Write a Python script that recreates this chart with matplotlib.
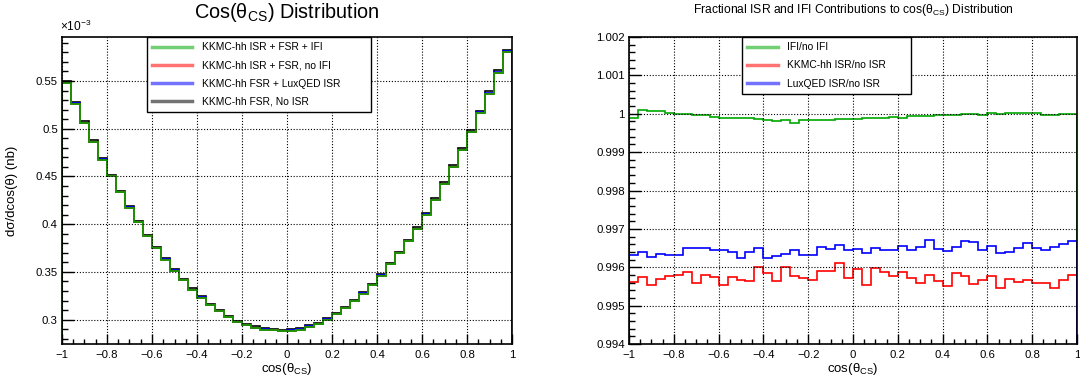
import numpy as np
import matplotlib
matplotlib.use("Agg")
import matplotlib.pyplot as plt
from matplotlib.ticker import MultipleLocator, FuncFormatter
from matplotlib.lines import Line2D

plt.rcParams["font.family"] = ["Liberation Sans", "DejaVu Sans"]
plt.rcParams["mathtext.fontset"] = "custom"
plt.rcParams["mathtext.rm"] = "Liberation Sans"
plt.rcParams["mathtext.it"] = "Liberation Sans:italic"
plt.rcParams["mathtext.bf"] = "Liberation Sans:bold"

# 50 bins in cos(theta_CS) from -1 to 1
bin_edges = np.linspace(-1.0, 1.0, 51)

# dsigma/dcos (units of 1e-3 nb)
isr_fsr_ifi = [0.5475, 0.5262, 0.5060, 0.4862, 0.4677, 0.4500, 0.4333, 0.4174, 0.4021, 0.3872,
               0.3748, 0.3628, 0.3514, 0.3411, 0.3312, 0.3230, 0.3152, 0.3089, 0.3028, 0.2975,
               0.2940, 0.2915, 0.2895, 0.2886, 0.2883, 0.2885, 0.2896, 0.2926, 0.2954, 0.3000,
               0.3057, 0.3117, 0.3191, 0.3273, 0.3362, 0.3461, 0.3578, 0.3695, 0.3819, 0.3950,
               0.4099, 0.4252, 0.4418, 0.4596, 0.4773, 0.4961, 0.5167, 0.5369, 0.5589, 0.5805]
isr_fsr_noifi = [0.5476, 0.5262, 0.5060, 0.4862, 0.4677, 0.4500, 0.4333, 0.4174, 0.4021, 0.3872,
                 0.3748, 0.3628, 0.3514, 0.3411, 0.3312, 0.3231, 0.3153, 0.3090, 0.3029, 0.2975,
                 0.2940, 0.2915, 0.2895, 0.2886, 0.2883, 0.2885, 0.2896, 0.2926, 0.2954, 0.3000,
                 0.3057, 0.3117, 0.3191, 0.3273, 0.3362, 0.3461, 0.3578, 0.3695, 0.3819, 0.3950,
                 0.4099, 0.4252, 0.4418, 0.4596, 0.4773, 0.4961, 0.5167, 0.5369, 0.5589, 0.5805]
fsr_luxqed = [0.5479, 0.5266, 0.5064, 0.4866, 0.4681, 0.4504, 0.4336, 0.4177, 0.4024, 0.3875,
              0.3751, 0.3631, 0.3517, 0.3414, 0.3315, 0.3233, 0.3155, 0.3091, 0.3030, 0.2977,
              0.2942, 0.2917, 0.2897, 0.2888, 0.2885, 0.2887, 0.2898, 0.2928, 0.2956, 0.3002,
              0.3059, 0.3119, 0.3194, 0.3276, 0.3365, 0.3464, 0.3581, 0.3698, 0.3822, 0.3953,
              0.4102, 0.4255, 0.4422, 0.4600, 0.4777, 0.4965, 0.5171, 0.5373, 0.5593, 0.5810]
fsr_noisr = [0.5499, 0.5285, 0.5082, 0.4883, 0.4697, 0.4519, 0.4352, 0.4192, 0.4038, 0.3889,
             0.3764, 0.3644, 0.3529, 0.3426, 0.3326, 0.3244, 0.3166, 0.3102, 0.3041, 0.2988,
             0.2953, 0.2928, 0.2907, 0.2898, 0.2895, 0.2897, 0.2908, 0.2939, 0.2967, 0.3013,
             0.3070, 0.3130, 0.3205, 0.3287, 0.3376, 0.3476, 0.3593, 0.3711, 0.3835, 0.3967,
             0.4117, 0.4270, 0.4437, 0.4616, 0.4794, 0.4982, 0.5189, 0.5392, 0.5613, 0.5830]

# ratios
ifi_ratio = [0.99989, 1.00010, 1.00008, 1.00007, 1.00003, 1.00000, 0.99999, 0.99998, 0.99997, 0.99992,
             0.99990, 0.99990, 0.99988, 0.99988, 0.99987, 0.99983, 0.99980, 0.99983, 0.99977, 0.99984,
             0.99984, 0.99983, 0.99983, 0.99986, 0.99987, 0.99986, 0.99988, 0.99989, 0.99990, 0.99992,
             0.99990, 0.99993, 0.99995, 0.99994, 0.99997, 0.99998, 0.99997, 0.99999, 1.00000, 0.99997,
             1.00001, 1.00000, 1.00001, 1.00002, 1.00002, 1.00001, 0.99998, 0.99998, 0.99999, 1.00000]
kkmc_isr_ratio = [0.99561, 0.99575, 0.99554, 0.99570, 0.99578, 0.99580, 0.99588, 0.99560, 0.99581, 0.99575,
                  0.99553, 0.99574, 0.99568, 0.99565, 0.99600, 0.99586, 0.99564, 0.99602, 0.99577, 0.99573,
                  0.99567, 0.99590, 0.99590, 0.99612, 0.99572, 0.99595, 0.99553, 0.99599, 0.99587, 0.99577,
                  0.99588, 0.99573, 0.99558, 0.99581, 0.99564, 0.99551, 0.99584, 0.99577, 0.99556, 0.99568,
                  0.99576, 0.99547, 0.99569, 0.99561, 0.99566, 0.99560, 0.99560, 0.99547, 0.99567, 0.99579]
luxqed_isr_ratio = [0.99631, 0.99639, 0.99628, 0.99634, 0.99631, 0.99631, 0.99649, 0.99649, 0.99650, 0.99644,
                    0.99644, 0.99640, 0.99625, 0.99640, 0.99651, 0.99625, 0.99630, 0.99634, 0.99646, 0.99631,
                    0.99633, 0.99652, 0.99647, 0.99657, 0.99646, 0.99647, 0.99638, 0.99649, 0.99645, 0.99645,
                    0.99655, 0.99645, 0.99652, 0.99670, 0.99647, 0.99643, 0.99654, 0.99669, 0.99665, 0.99646,
                    0.99655, 0.99636, 0.99640, 0.99650, 0.99662, 0.99650, 0.99645, 0.99654, 0.99660, 0.99668]

GREEN = "#00a800"


def fmt_tick(v, pos):
    s = "%g" % round(v, 6)
    return s.replace("-", "\u2212")


def style_axes(ax, ymaj, ymin):
    ax.xaxis.set_major_locator(MultipleLocator(0.2))
    ax.xaxis.set_minor_locator(MultipleLocator(0.05))
    ax.yaxis.set_major_locator(MultipleLocator(ymaj))
    ax.yaxis.set_minor_locator(MultipleLocator(ymin))
    ax.xaxis.set_major_formatter(FuncFormatter(fmt_tick))
    ax.yaxis.set_major_formatter(FuncFormatter(fmt_tick))
    ax.tick_params(which="both", direction="in", top=False, right=False,
                   labelsize=8.2, width=1, color="black")
    ax.tick_params(axis="x", which="major", length=7, pad=4)
    ax.tick_params(axis="x", which="minor", length=3.5)
    ax.tick_params(axis="y", which="major", length=8.5, pad=3)
    ax.tick_params(axis="y", which="minor", length=4.3)
    ax.grid(True, which="major", color="black", linestyle=(0, (1, 1.6)), linewidth=0.8)
    for sp in ax.spines.values():
        sp.set_linewidth(1.2)
    ax.set_xlim(-1, 1)
    ax.set_xlabel("cos(θ$_{\\mathrm{CS}}$)", fontsize=9.5, labelpad=1)


def legend_box(ax, handles, labels, x0, width, hlen):
    leg = ax.legend(handles, labels, loc="upper left", bbox_to_anchor=(x0, 1.0, width, 0),
                    mode="expand", borderaxespad=0, fontsize=7.4, fancybox=False,
                    framealpha=1, edgecolor="black", handlelength=hlen,
                    handletextpad=0.9, labelspacing=0.8, borderpad=0.5)
    leg.get_frame().set_linewidth(1.0)
    return leg


fig = plt.figure(figsize=(10.8, 3.79), dpi=100)
ax1 = fig.add_axes([0.0574, 0.0923, 0.4167, 0.8100])
ax2 = fig.add_axes([0.5824, 0.0923, 0.4148, 0.8100])

# left panel
ax1.stairs(fsr_noisr, bin_edges, color="black", linewidth=1.2)
ax1.stairs(fsr_luxqed, bin_edges, color="#0000ff", linewidth=1.2)
ax1.stairs(isr_fsr_noifi, bin_edges, color="#ff0000", linewidth=1.2)
ax1.stairs(isr_fsr_ifi, bin_edges, color=GREEN, linewidth=1.2)
style_axes(ax1, 0.05, 0.01)
ax1.set_ylim(0.2744, 0.5961)
ax1.set_ylabel("dσ/dcos(θ) (nb)", fontsize=9.5, labelpad=13)
ax1.set_title("Cos(θ$_{\\mathrm{CS}}$) Distribution", fontsize=14.3, pad=14)
ax1.text(-0.005, 1.01, "×10$^{-3}$", transform=ax1.transAxes, fontsize=8.6,
         ha="left", va="bottom")
h1 = [Line2D([], [], color=c, alpha=0.55, linewidth=2.5)
      for c in (GREEN, "#ff0000", "#0000ff", "black")]
legend_box(ax1, h1, ["KKMC-hh ISR + FSR + IFI", "KKMC-hh ISR + FSR, no IFI",
                     "KKMC-hh FSR + LuxQED ISR", "KKMC-hh FSR, No ISR"], 0.189, 0.498, 3.9)

# right panel
ax2.stairs(ifi_ratio, bin_edges, color=GREEN, linewidth=1.2)
ax2.stairs(kkmc_isr_ratio, bin_edges, color="#ff0000", linewidth=1.2)
ax2.stairs(luxqed_isr_ratio, bin_edges, color="#0000ff", linewidth=1.2)
style_axes(ax2, 0.001, 0.0002)
ax2.set_ylim(0.994, 1.002)
ax2.set_title("Fractional ISR and IFI Contributions to cos(θ$_{\\mathrm{CS}}$) Distribution",
              fontsize=8.7, pad=17)
h2 = [Line2D([], [], color=c, alpha=0.55, linewidth=2.5)
      for c in (GREEN, "#ff0000", "#0000ff")]
legend_box(ax2, h2, ["IFI/no IFI", "KKMC-hh ISR/no ISR", "LuxQED ISR/no ISR"], 0.252, 0.377, 3.0)

fig.savefig("out.png", dpi=100)
